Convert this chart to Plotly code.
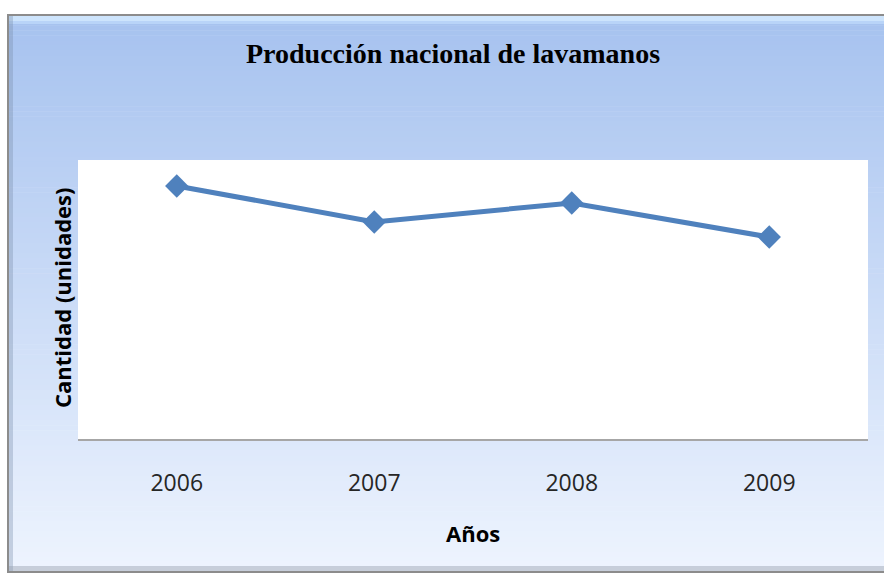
import plotly.graph_objects as go

years = ["2006", "2007", "2008", "2009"]
cantidad = [90.7, 77.8, 84.6, 72.4]

W, H = 884, 575
L, R, T, B = 78, 868, 160, 439  # plot area in px

def px(x):
    return (x - L) / (R - L)

def py(y):
    return (B - y) / (B - T)

def lerp(c1, c2, t):
    return "rgb(%d,%d,%d)" % tuple(round(a + (b - a) * t) for a, b in zip(c1, c2))

shapes = []
fx0, fy0, fx1, fy1 = 8, 15, 888, 572
top_c = (166, 194, 239)
bot_c = (238, 244, 254)
n = 110
for i in range(n):
    y0 = fy0 + (fy1 - fy0) * i / n
    y1 = fy0 + (fy1 - fy0) * (i + 1) / n + 0.6
    c = lerp(top_c, bot_c, (i + 0.5) / n)
    shapes.append(dict(type="rect", xref="paper", yref="paper", layer="below",
                       x0=px(fx0), x1=px(fx1), y0=py(y0), y1=py(y1),
                       fillcolor=c, line=dict(width=0)))
# bevel: top highlight
shapes.append(dict(type="rect", xref="paper", yref="paper", layer="below",
                   x0=px(fx0), x1=px(fx1), y0=py(16), y1=py(21),
                   fillcolor="rgb(205,228,252)", line=dict(width=0)))
shapes.append(dict(type="rect", xref="paper", yref="paper", layer="below",
                   x0=px(fx0), x1=px(fx1), y0=py(21), y1=py(24),
                   fillcolor="rgb(185,212,248)", line=dict(width=0)))
# left shade
shapes.append(dict(type="rect", xref="paper", yref="paper", layer="below",
                   x0=px(fx0), x1=px(13), y0=py(fy0), y1=py(fy1),
                   fillcolor="rgba(120,140,170,0.35)", line=dict(width=0)))
# bottom shade
shapes.append(dict(type="rect", xref="paper", yref="paper", layer="below",
                   x0=px(fx0), x1=px(fx1), y0=py(566), y1=py(fy1),
                   fillcolor="rgba(150,160,175,0.45)", line=dict(width=0)))
# frame border
shapes.append(dict(type="rect", xref="paper", yref="paper", layer="below",
                   x0=px(fx0), x1=px(fx1), y0=py(fy0), y1=py(fy1),
                   fillcolor="rgba(0,0,0,0)", line=dict(color="#8c8c8c", width=2)))
# plot area white
shapes.append(dict(type="rect", xref="paper", yref="paper", layer="below",
                   x0=0, x1=1, y0=0, y1=1, fillcolor="white", line=dict(width=0)))

fig = go.Figure()
fig.add_trace(go.Scatter(
    x=years, y=cantidad, mode="lines+markers",
    line=dict(color="#4f81bd", width=5),
    marker=dict(symbol="diamond", size=18, color="#4f81bd"),
    showlegend=False, hoverinfo="skip"))

fig.update_layout(
    width=W, height=H,
    margin=dict(l=L, r=W - R, t=T, b=H - B),
    paper_bgcolor="white", plot_bgcolor="rgba(0,0,0,0)",
    shapes=shapes,
    xaxis=dict(type="category", range=[-0.5, 3.5], showgrid=False, zeroline=False,
               showline=True, linecolor="#a6a6a6", linewidth=2, ticks="",
               tickfont=dict(family="Open Sans", size=23, color="#262626"),
               ticklabelstandoff=22, fixedrange=True),
    yaxis=dict(range=[0, 100], showgrid=False, zeroline=False, showline=False,
               showticklabels=False, ticks="", fixedrange=True),
    annotations=[
        dict(text="<b>Producción nacional de lavamanos</b>", xref="paper", yref="paper",
             x=px(453), y=py(53), showarrow=False, xanchor="center", yanchor="middle",
             font=dict(family="Liberation Serif", size=28, color="black")),
        dict(text="<b>Años</b>", xref="paper", yref="paper",
             x=px(473), y=py(533), showarrow=False, xanchor="center", yanchor="middle",
             font=dict(family="Open Sans", size=22, color="black")),
        dict(text="<b>Cantidad (unidades)</b>", xref="paper", yref="paper",
             x=px(62), y=py(298), showarrow=False, xanchor="center", yanchor="middle",
             textangle=-90,
             font=dict(family="Open Sans", size=22, color="black")),
    ],
)

fig.write_html("out.html", config={"displayModeBar": False},
               post_script="document.body.style.margin='0';document.body.style.overflow='hidden';")
